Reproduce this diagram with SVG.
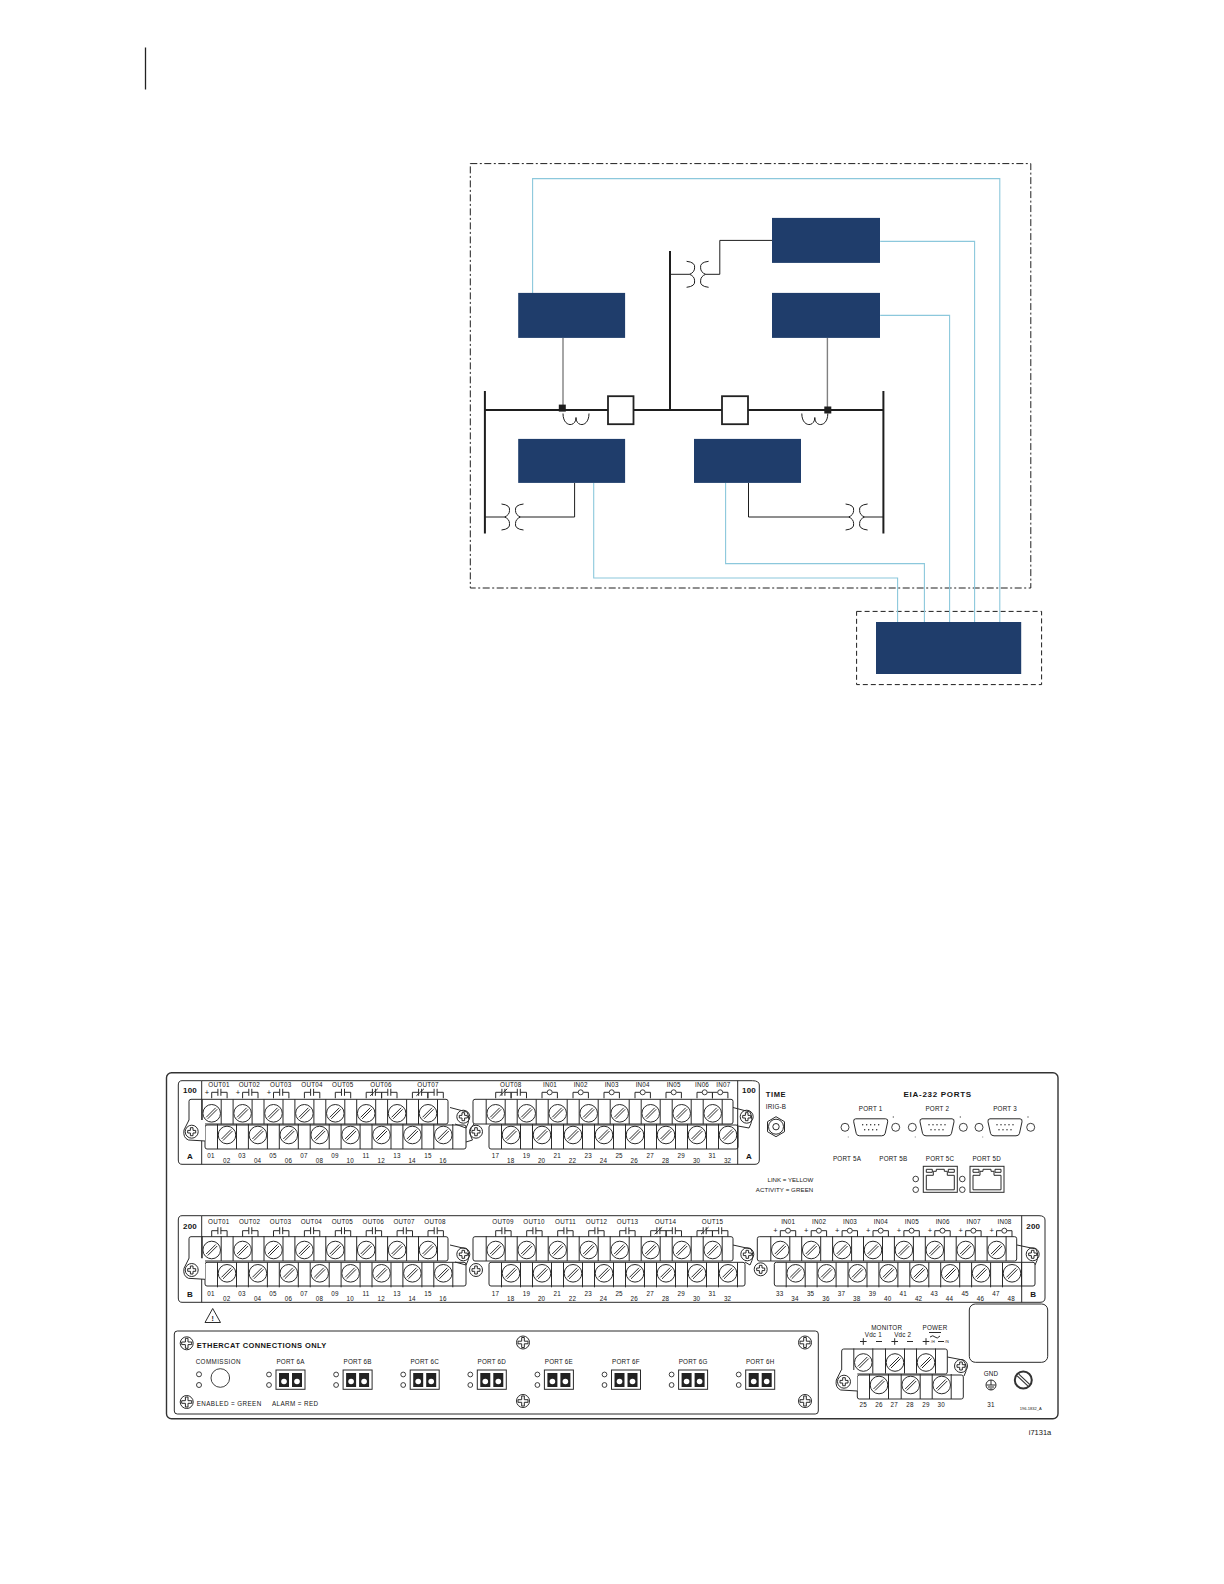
<svg xmlns="http://www.w3.org/2000/svg" width="1224" height="1584" viewBox="0 0 1224 1584">
<style>
text{font-family:"Liberation Sans",Arial,sans-serif;fill:#151515;font-size:6.3px;letter-spacing:.2px;text-anchor:middle}
.l{text-anchor:start}.r{text-anchor:end}
.b{font-weight:bold}
.h{font-size:8px;font-weight:bold;letter-spacing:.7px}
.n{fill:#1f3d6b}
.c{fill:none;stroke:#8cc8dc;stroke-width:1.1}
.k{fill:none;stroke:#1e1e1e;stroke-width:1}
.bus{fill:none;stroke:#1e1e1e;stroke-width:2}
.gr{fill:none;stroke:#808080;stroke-width:1.4}
.dash{fill:none;stroke:#1e1e1e;stroke-width:1;stroke-dasharray:5 3}
.dd{fill:none;stroke:#1e1e1e;stroke-width:1;stroke-dasharray:7 2.5 2 2.5}
.o{fill:none;stroke:#2a2a2a;stroke-width:1}
.w{fill:#fff;stroke:#2a2a2a;stroke-width:1}
.led{fill:#fff;stroke:#2a2a2a;stroke-width:.9}
</style>
<defs>
<g id="xf"><path class="k" d="M-11,-13Q-2,-12-3,-6.5Q-3,-2-8,0Q-3,2-3,6.5Q-2,12-11,13M11,-13Q2,-12 3,-6.5Q3,-2 8,0Q3,2 3,6.5Q2,12 11,13"/></g>
<path id="ct" class="k" d="M0,0C0,14 13,14 13,4C13,14 26,14 26,0"/>
<g id="sw"><circle class="w" r="8.8"/><path d="M-5.5,4L4,-5.5M-4,5.5L5.5,-4" class="o"/></g>
<g id="st"><path class="o" d="M-9.5,-14V11M9.5,-14V11"/><use href="#sw"/></g>
<g id="sb"><path class="o" d="M-9.5,-11V14M9.5,-11V14"/><use href="#sw"/></g>
<g id="m"><circle class="w" r="6.5" stroke-width="1.6"/><path class="o" d="M-1.3,-4H1.3V-1.3H4V1.3H1.3V4H-1.3V1.3H-4V-1.3H-1.3Z"/></g>
<g id="big"><circle class="w" r="6.5"/><path class="o" d="M-1.3,-5H1.3V-1.3H5V1.3H1.3V5H-1.3V1.3H-5V-1.3H-1.3Z"/></g>
<path id="fl" d="M-2.7,-11.7L-7.7,-1.7Q-9,6-3.3,8.3L13.3,9.3V-11.7Z" fill="#fff"/>
<path id="fll" class="o" d="M-2.7,-11.7L-7.7,-1.7Q-9,6-3.3,8.3L13.3,9.3"/>
<path id="no" class="o" d="M0,6V0H6.2M9.2,0H15.4V6M6.2,-3.5V3.5M9.2,-3.5V3.5"/>
<path id="nc" class="o" d="M0,6V0H6.2M9.2,0H15.4V6M6.2,-3.5V3.5M9.2,-3.5V3.5M4,3.5L11.5,-3.5"/>
<g id="inp"><path class="o" d="M0,6V0H5.2M10.2,0H15.4V6"/><circle class="led" cx="7.7" r="2.5"/></g>
<g id="t1"><use href="#st" x="211.7"/><use href="#st" x="242.6"/><use href="#st" x="273.5"/><use href="#st" x="304.4"/><use href="#st" x="335.3"/><use href="#st" x="366.2"/><use href="#st" x="397.1"/><use href="#st" x="428"/></g>
<g id="b1"><use href="#sb" x="227"/><use href="#sb" x="257.9"/><use href="#sb" x="288.8"/><use href="#sb" x="319.7"/><use href="#sb" x="350.6"/><use href="#sb" x="381.5"/><use href="#sb" x="412.4"/><use href="#sb" x="443.3"/></g>
<g id="t2"><use href="#st" x="495.7"/><use href="#st" x="526.7"/><use href="#st" x="557.7"/><use href="#st" x="588.7"/><use href="#st" x="619.7"/><use href="#st" x="650.7"/><use href="#st" x="681.7"/><use href="#st" x="712.7"/></g>
<g id="b2"><use href="#sb" x="511"/><use href="#sb" x="542"/><use href="#sb" x="573"/><use href="#sb" x="604"/><use href="#sb" x="635"/><use href="#sb" x="666"/><use href="#sb" x="697"/><use href="#sb" x="728"/></g>
<g id="t3"><use href="#st" x="780.3"/><use href="#st" x="811.2"/><use href="#st" x="842.1"/><use href="#st" x="873"/><use href="#st" x="903.9"/><use href="#st" x="934.8"/><use href="#st" x="965.7"/><use href="#st" x="996.6"/></g>
<g id="b3"><use href="#sb" x="795.7"/><use href="#sb" x="826.6"/><use href="#sb" x="857.5"/><use href="#sb" x="888.4"/><use href="#sb" x="919.3"/><use href="#sb" x="950.2"/><use href="#sb" x="981.1"/><use href="#sb" x="1012"/></g>
<g id="db"><path class="o" d="M-15,-8.5H15Q17.5,-8.5 17,-5.5L14.5,6Q14,8.5 11,8.5H-11Q-14,8.5-14.5,6L-17,-5.5Q-17.5,-8.5-15,-8.5Z"/><path d="M-8,-2.5h.01M-4,-2.5h.01M0,-2.5h.01M4,-2.5h.01M8,-2.5h.01M-6,2.5h.01M-2,2.5h.01M2,2.5h.01M6,2.5h.01" stroke="#222" stroke-width="1.4" stroke-linecap="round"/></g>
<g id="rj"><rect class="o" width="34" height="26" stroke-width="1.1"/><path class="o" d="M3,23.5H31V9H24V5H21V3H13V5H10V9H3ZM3,3h6v3h-6ZM25,3h6v3h-6Z"/></g>
<g id="pt"><rect class="w" x="-14.5" width="29" height="19.3"/><rect x="-11.5" y="3" width="10" height="14" fill="#222"/><rect x="1.5" y="3" width="10" height="14" fill="#222"/><circle cx="-6.5" cy="11.5" r="2.8" fill="#fff"/><circle cx="6.5" cy="11.5" r="2.8" fill="#fff"/><circle class="led" cx="-21.5" cy="4.5" r="2.4"/><circle class="led" cx="-21.5" cy="15" r="2.4"/></g>
</defs>

<path id="page-mark" d="M145.5,47.5V89.5" stroke="#222" stroke-width="1.3" fill="none"/>

<g id="zones">
<rect id="zone-outer" class="dd" x="470.3" y="163.6" width="560.5" height="424.4"/>
<rect id="zone-inner" class="dash" x="856.6" y="611.4" width="185" height="73.2"/>
</g>

<g id="connectors">
<path class="c" d="M532.6,293V178.6H999.8V622"/>
<path class="c" d="M880.2,241.4H974.6V622"/>
<path class="c" d="M880.2,315.4H949.6V622"/>
<path class="c" d="M593.7,483V578H897.6V622"/>
<path class="c" d="M725.6,483V563.6H924.4V622"/>
<path class="gr" d="M563,338V409"/>
<path class="gr" d="M827.4,338V409"/>
<path class="k" d="M772,240.4H719.8V274.3H705.6M689.6,274.3H670"/>
<path class="k" d="M484.9,517H504.5M520.5,517H574.6V483"/>
<path class="k" d="M748.5,483V517H848.6M864.6,517H883.4"/>
<path class="bus" d="M484.9,391V533.6M883.4,391V533.6M484.9,410H883.4M670,251V410"/>
</g>

<g id="one-line-symbols">
<use href="#xf" x="697.6" y="274.3"/><use href="#xf" x="512.5" y="517"/><use href="#xf" x="856.6" y="517"/>
<use href="#ct" x="563" y="413.5"/><use href="#ct" x="801.8" y="413.5"/>
<rect x="558.8" y="404.6" width="7" height="7" fill="#1e1e1e"/><rect x="824.3" y="406.5" width="7" height="7" fill="#1e1e1e"/>
<rect id="breaker-1" x="608" y="396.2" width="25.5" height="28" fill="#fff" stroke="#222" stroke-width="1.8"/>
<rect id="breaker-2" x="722" y="396.2" width="26" height="28" fill="#fff" stroke="#222" stroke-width="1.8"/>
</g>

<g id="node-a"><rect class="n" x="772" y="217.9" width="108" height="45"/></g>
<g id="node-b"><rect class="n" x="772" y="292.9" width="108" height="45"/></g>
<g id="node-c"><rect class="n" x="518.2" y="292.9" width="106.9" height="45"/></g>
<g id="node-d"><rect class="n" x="518.2" y="438.9" width="106.9" height="44"/></g>
<g id="node-e"><rect class="n" x="694" y="438.9" width="107" height="44"/></g>
<g id="node-f"><rect class="n" x="876" y="622" width="145.2" height="52"/></g>

<g id="rear-panel">
<rect x="166.5" y="1072.8" width="891.5" height="346" rx="5" fill="#fff" stroke="#333" stroke-width="1.4"/>
</g>

<g id="row-a">
<path class="o" d="M201.7,1080.7H752.3Q759.3,1080.7 759.3,1085V1160Q759.3,1164.3 755,1164.3H182Q178.3,1164.3 178.3,1160V1085Q178.3,1080.7 182,1080.7H201.7V1164.3M737.7,1080.7V1164.3"/>
<rect class="o" x="189" y="1099.3" width="259" height="24.7" rx="2"/>
<rect class="o" x="205" y="1125" width="261" height="24" rx="2"/>
<rect class="o" x="473" y="1099.3" width="260" height="24.7" rx="2"/>
<rect class="o" x="489" y="1125" width="249" height="24" rx="2"/>
<use href="#t1" y="1113.3"/><use href="#b1" y="1135"/><use href="#t2" y="1113.3"/><use href="#b2" y="1135"/>
<use href="#fl" x="191.7" y="1131.7"/><use href="#fll" x="191.7" y="1131.7"/><use href="#m" x="191.7" y="1131.7"/>
<use href="#m" x="463.3" y="1116.7"/><use href="#m" x="476" y="1131.7"/><use href="#m" x="746.7" y="1116.7"/>
<path class="o" d="M450,1107.5L467,1112Q471,1119 466,1128L455,1124M466,1142L472.5,1140Q467,1131 474,1124M733,1107.5L750,1112Q754,1119 749,1128L738,1126"/>
<text class="b" x="190" y="1092.5" style="font-size:8px">100</text><text class="b" x="190" y="1159" style="font-size:8px">A</text>
<text class="b" x="749" y="1092.5" style="font-size:8px">100</text><text class="b" x="749" y="1159" style="font-size:8px">A</text>
<text x="219" y="1087">OUT01</text><text x="249.3" y="1087">OUT02</text><text x="280.7" y="1087">OUT03</text><text x="312" y="1087">OUT04</text><text x="342.7" y="1087">OUT05</text><text x="381" y="1087">OUT06</text><text x="428" y="1087">OUT07</text>
<text x="510.7" y="1087">OUT08</text><text x="550" y="1087">IN01</text><text x="580.7" y="1087">IN02</text><text x="611.7" y="1087">IN03</text><text x="642.7" y="1087">IN04</text><text x="673.7" y="1087">IN05</text><text x="702" y="1087">IN06</text><text x="723.3" y="1087">IN07</text>
<text x="207" y="1094.5" style="font-size:7.5px">+</text><text x="238" y="1094.5" style="font-size:7.5px">+</text><text x="269" y="1094.5" style="font-size:7.5px">+</text>
<use href="#no" x="211.7" y="1092.3"/><use href="#no" x="242.6" y="1092.3"/><use href="#no" x="273.5" y="1092.3"/><use href="#no" x="304.4" y="1092.3"/><use href="#no" x="335.3" y="1092.3"/>
<use href="#nc" x="366.2" y="1092.3"/><use href="#no" x="381.6" y="1092.3"/><use href="#nc" x="412.4" y="1092.3"/><use href="#no" x="427.9" y="1092.3"/>
<use href="#nc" x="495.7" y="1092.3"/><use href="#no" x="511.1" y="1092.3"/>
<use href="#inp" x="542" y="1092.3"/><use href="#inp" x="573" y="1092.3"/><use href="#inp" x="604" y="1092.3"/><use href="#inp" x="635" y="1092.3"/><use href="#inp" x="666" y="1092.3"/><use href="#inp" x="697" y="1092.3"/><use href="#inp" x="712.5" y="1092.3"/>
<text x="211" y="1158">01</text><text x="226.7" y="1162.5">02</text><text x="242" y="1158">03</text><text x="257.6" y="1162.5">04</text><text x="273" y="1158">05</text><text x="288.5" y="1162.5">06</text><text x="304" y="1158">07</text><text x="319.4" y="1162.5">08</text><text x="335" y="1158">09</text><text x="350.3" y="1162.5">10</text><text x="366" y="1158">11</text><text x="381.2" y="1162.5">12</text><text x="397" y="1158">13</text><text x="412.1" y="1162.5">14</text><text x="428" y="1158">15</text><text x="443" y="1162.5">16</text>
<text x="495.5" y="1158">17</text><text x="510.7" y="1162.5">18</text><text x="526.4" y="1158">19</text><text x="541.6" y="1162.5">20</text><text x="557.3" y="1158">21</text><text x="572.5" y="1162.5">22</text><text x="588.2" y="1158">23</text><text x="603.4" y="1162.5">24</text><text x="619.1" y="1158">25</text><text x="634.3" y="1162.5">26</text><text x="650.2" y="1158">27</text><text x="665.6" y="1162.5">28</text><text x="681.3" y="1158">29</text><text x="696.6" y="1162.5">30</text><text x="712.3" y="1158">31</text><text x="727.6" y="1162.5">32</text>
</g>

<g id="time-ports">
<text class="b" x="776" y="1097" style="font-size:7.5px;letter-spacing:.6px">TIME</text>
<text x="776" y="1108.5">IRIG-B</text>
<path class="w" d="M776,1116.7L784.5,1121.7V1131.7L776,1136.7L767.5,1131.7V1121.7Z"/><circle class="o" cx="776" cy="1126.7" r="7.5"/><circle class="o" cx="776" cy="1126.7" r="3.2"/>
<text class="h" x="937.7" y="1097">EIA-232 PORTS</text>
<text x="870.7" y="1110.5">PORT 1</text><text x="937.3" y="1110.5">PORT 2</text><text x="1005" y="1110.5">PORT 3</text>
<use href="#db" x="870.7" y="1127.3"/><use href="#db" x="937" y="1127.3"/><use href="#db" x="1005" y="1127.3"/>
<circle class="led" cx="845" cy="1127.3" r="4"/><circle class="led" cx="895.7" cy="1127.3" r="4"/><circle class="led" cx="912.3" cy="1127.3" r="4"/><circle class="led" cx="963.3" cy="1127.3" r="4"/><circle class="led" cx="979" cy="1127.3" r="4"/><circle class="led" cx="1030.7" cy="1127.3" r="4"/>
<path d="M893.3,1116v2M960.3,1116v2M1028,1116v2M848.3,1136.5v1M915.3,1136.5v1M982.7,1136.5v1" stroke="#555" stroke-width=".7"/>
<text x="847" y="1160.5">PORT 5A</text><text x="893.3" y="1160.5">PORT 5B</text><text x="940" y="1160.5">PORT 5C</text><text x="986.7" y="1160.5">PORT 5D</text>
<use href="#rj" x="923.3" y="1166.3"/><use href="#rj" x="970" y="1166.3"/>
<circle class="led" cx="915.7" cy="1179" r="2.8"/><circle class="led" cx="915.7" cy="1189.7" r="2.8"/><circle class="led" cx="962.3" cy="1179" r="2.8"/><circle class="led" cx="962.3" cy="1189.7" r="2.8"/>
<text class="r" x="813.3" y="1182" style="font-size:6.1px;letter-spacing:0">LINK = YELLOW</text><text class="r" x="813.3" y="1192.3" style="font-size:6.1px;letter-spacing:.1px">ACTIVITY = GREEN</text>
</g>

<g id="row-b">
<path class="o" d="M201.7,1215.7H1039Q1045,1215.7 1045,1220V1298Q1045,1302.3 1040,1302.3H182Q178.3,1302.3 178.3,1298V1220Q178.3,1215.7 182,1215.7H201.7V1302.3M1021.7,1215.7V1302.3"/>
<rect class="o" x="189" y="1236.7" width="259" height="24.3" rx="2"/>
<rect class="o" x="205" y="1262.3" width="261" height="23.7" rx="2"/>
<rect class="o" x="473" y="1236.7" width="260" height="24.3" rx="2"/>
<rect class="o" x="489" y="1262.3" width="256" height="23.7" rx="2"/>
<rect class="o" x="757.3" y="1236.7" width="259.4" height="24.3" rx="2"/>
<rect class="o" x="774.3" y="1262.3" width="260.7" height="23.7" rx="2"/>
<use href="#t1" y="1250"/><use href="#b1" y="1273.3"/><use href="#t2" y="1250"/><use href="#b2" y="1273.3"/><use href="#t3" y="1250"/><use href="#b3" y="1273.3"/>
<use href="#fl" x="191.7" y="1270"/><use href="#fll" x="191.7" y="1270"/><use href="#m" x="191.7" y="1270"/>
<use href="#m" x="463.3" y="1254.3"/><use href="#m" x="476" y="1270"/><use href="#m" x="747.3" y="1254.3"/><use href="#m" x="760.7" y="1269.3"/><use href="#m" x="1032.7" y="1254.3"/>
<path class="o" d="M450,1245L467,1249Q471,1256 466,1265L455,1262M733,1245L751,1249Q755,1256 750,1265L745,1262M1017,1245L1036,1249Q1040,1256 1035,1265"/>
<text class="b" x="190" y="1228.5" style="font-size:8px">200</text><text class="b" x="190" y="1297" style="font-size:8px">B</text>
<text class="b" x="1033.3" y="1228.5" style="font-size:8px">200</text><text class="b" x="1033.3" y="1297" style="font-size:8px">B</text>
<text x="218.7" y="1224">OUT01</text><text x="249.6" y="1224">OUT02</text><text x="280.5" y="1224">OUT03</text><text x="311.4" y="1224">OUT04</text><text x="342.3" y="1224">OUT05</text><text x="373.2" y="1224">OUT06</text><text x="404.1" y="1224">OUT07</text><text x="435" y="1224">OUT08</text>
<text x="503" y="1224">OUT09</text><text x="534" y="1224">OUT10</text><text x="565.5" y="1224">OUT11</text><text x="596.5" y="1224">OUT12</text><text x="627.5" y="1224">OUT13</text><text x="665.5" y="1224">OUT14</text><text x="712.5" y="1224">OUT15</text>
<text x="788.2" y="1224">IN01</text><text x="819.1" y="1224">IN02</text><text x="850" y="1224">IN03</text><text x="880.9" y="1224">IN04</text><text x="911.8" y="1224">IN05</text><text x="942.7" y="1224">IN06</text><text x="973.6" y="1224">IN07</text><text x="1004.5" y="1224">IN08</text>
<use href="#no" x="211.7" y="1230.7"/><use href="#no" x="242.6" y="1230.7"/><use href="#no" x="273.5" y="1230.7"/><use href="#no" x="304.4" y="1230.7"/><use href="#no" x="335.3" y="1230.7"/><use href="#no" x="366.2" y="1230.7"/><use href="#no" x="397.1" y="1230.7"/><use href="#no" x="428" y="1230.7"/>
<use href="#no" x="495.7" y="1230.7"/><use href="#no" x="526.7" y="1230.7"/><use href="#no" x="557.7" y="1230.7"/><use href="#no" x="588.7" y="1230.7"/><use href="#no" x="619.7" y="1230.7"/>
<use href="#nc" x="650.7" y="1230.7"/><use href="#no" x="666.1" y="1230.7"/><use href="#nc" x="697" y="1230.7"/><use href="#no" x="712.5" y="1230.7"/>
<use href="#inp" x="780.3" y="1230.7"/><use href="#inp" x="811.2" y="1230.7"/><use href="#inp" x="842.1" y="1230.7"/><use href="#inp" x="873" y="1230.7"/><use href="#inp" x="903.9" y="1230.7"/><use href="#inp" x="934.8" y="1230.7"/><use href="#inp" x="965.7" y="1230.7"/><use href="#inp" x="996.6" y="1230.7"/>
<text x="775.5" y="1233" style="font-size:7.5px">+</text><text x="806.4" y="1233" style="font-size:7.5px">+</text><text x="837.3" y="1233" style="font-size:7.5px">+</text><text x="868.2" y="1233" style="font-size:7.5px">+</text><text x="899.1" y="1233" style="font-size:7.5px">+</text><text x="930" y="1233" style="font-size:7.5px">+</text><text x="960.9" y="1233" style="font-size:7.5px">+</text><text x="991.8" y="1233" style="font-size:7.5px">+</text>
<text x="211" y="1296">01</text><text x="226.7" y="1300.5">02</text><text x="242" y="1296">03</text><text x="257.6" y="1300.5">04</text><text x="273" y="1296">05</text><text x="288.5" y="1300.5">06</text><text x="304" y="1296">07</text><text x="319.4" y="1300.5">08</text><text x="335" y="1296">09</text><text x="350.3" y="1300.5">10</text><text x="366" y="1296">11</text><text x="381.2" y="1300.5">12</text><text x="397" y="1296">13</text><text x="412.1" y="1300.5">14</text><text x="428" y="1296">15</text><text x="443" y="1300.5">16</text>
<text x="495.5" y="1296">17</text><text x="510.7" y="1300.5">18</text><text x="526.4" y="1296">19</text><text x="541.6" y="1300.5">20</text><text x="557.3" y="1296">21</text><text x="572.5" y="1300.5">22</text><text x="588.2" y="1296">23</text><text x="603.4" y="1300.5">24</text><text x="619.1" y="1296">25</text><text x="634.3" y="1300.5">26</text><text x="650.2" y="1296">27</text><text x="665.6" y="1300.5">28</text><text x="681.3" y="1296">29</text><text x="696.6" y="1300.5">30</text><text x="712.3" y="1296">31</text><text x="727.6" y="1300.5">32</text>
<text x="779.7" y="1296">33</text><text x="795" y="1300.5">34</text><text x="810.6" y="1296">35</text><text x="825.9" y="1300.5">36</text><text x="841.5" y="1296">37</text><text x="856.8" y="1300.5">38</text><text x="872.4" y="1296">39</text><text x="887.7" y="1300.5">40</text><text x="903.3" y="1296">41</text><text x="918.6" y="1300.5">42</text><text x="934.2" y="1296">43</text><text x="949.5" y="1300.5">44</text><text x="965.1" y="1296">45</text><text x="980.4" y="1300.5">46</text><text x="996" y="1296">47</text><text x="1011.3" y="1300.5">48</text>
<path class="o" d="M212.7,1308.5L220.5,1322.5H205Z" stroke-linejoin="round"/>
<text class="b" x="212.7" y="1321" style="font-size:7px;letter-spacing:0">!</text>
</g>

<g id="ethercat">
<rect class="o" x="174.3" y="1331" width="644" height="83" rx="3" stroke-width="1.1"/>
<use href="#big" x="186.7" y="1343.3"/><use href="#big" x="186.7" y="1402"/><use href="#big" x="523" y="1342.5"/><use href="#big" x="805" y="1342.5"/><use href="#big" x="523" y="1401"/><use href="#big" x="805" y="1401"/>
<text class="l b" x="196.7" y="1347.8" style="font-size:7.5px;letter-spacing:.4px">ETHERCAT CONNECTIONS ONLY</text>
<text x="218.3" y="1364" style="letter-spacing:.4px">COMMISSION</text>
<circle class="led" cx="199" cy="1374.3" r="2.5"/><circle class="led" cx="199" cy="1385" r="2.5"/><circle class="led" cx="220.3" cy="1378" r="9.3"/>
<text x="290.5" y="1364">PORT 6A</text><text x="357.6" y="1364">PORT 6B</text><text x="424.7" y="1364">PORT 6C</text><text x="491.8" y="1364">PORT 6D</text><text x="558.9" y="1364">PORT 6E</text><text x="626" y="1364">PORT 6F</text><text x="693.1" y="1364">PORT 6G</text><text x="760.2" y="1364">PORT 6H</text>
<use href="#pt" x="290.5" y="1370"/><use href="#pt" x="357.6" y="1370"/><use href="#pt" x="424.7" y="1370"/><use href="#pt" x="491.8" y="1370"/><use href="#pt" x="558.9" y="1370"/><use href="#pt" x="626" y="1370"/><use href="#pt" x="693.1" y="1370"/><use href="#pt" x="760.2" y="1370"/>
<text class="l" x="196.7" y="1406" style="letter-spacing:.4px">ENABLED = GREEN</text><text class="l" x="272" y="1406" style="letter-spacing:.4px">ALARM = RED</text>
</g>

<g id="power">
<rect class="o" x="841.7" y="1349" width="105.6" height="25" rx="2"/>
<rect class="o" x="857.3" y="1375" width="106" height="24" rx="2"/>
<use href="#st" x="863.3" y="1362.5"/><use href="#st" x="895" y="1362.5"/><use href="#st" x="926" y="1362.5"/>
<use href="#sb" x="879" y="1385"/><use href="#sb" x="910.7" y="1385"/><use href="#sb" x="941.7" y="1385"/>
<use href="#fl" x="844" y="1381.7"/><use href="#fll" x="844" y="1381.7"/><use href="#m" x="844" y="1381.7"/><use href="#m" x="961" y="1366"/>
<path class="o" d="M947.3,1357L963,1360Q969,1367 964,1376"/>
<text x="886.7" y="1329.5">MONITOR</text><text x="873.3" y="1336.5">Vdc 1</text><text x="902.7" y="1336.5">Vdc 2</text><text x="935" y="1329.5">POWER</text>
<path class="o" d="M929,1332.5h12M930,1337q3,-2.5 5,0t5,-1"/>
<path class="o" stroke-width="1.2" d="M860,1341.5H866.6M863.3,1338.2V1344.8M876,1341.5H882M891.4,1341.5H898M894.7,1338.2V1344.8M907,1341.5H913M922.7,1341.5H929.3M926,1338.2V1344.8M938,1341.5H944"/>
<text x="933" y="1343.3" style="font-size:3.5px">/H</text><text x="947" y="1343.3" style="font-size:3.5px">/N</text>
<text x="863.3" y="1407.3">25</text><text x="879" y="1407.3">26</text><text x="894.3" y="1407.3">27</text><text x="910" y="1407.3">28</text><text x="926" y="1407.3">29</text><text x="941.3" y="1407.3">30</text>
<rect class="o" x="969.3" y="1304" width="78.4" height="58.3" rx="6" stroke-width="1.1"/>
<text x="991" y="1375.5">GND</text>
<circle class="o" cx="991" cy="1385" r="5"/><path class="o" d="M991,1380V1385M986.5,1385H995.5M988,1387H994M989.5,1389H992.5"/>
<text x="991" y="1407.3">31</text>
<circle cx="1023.3" cy="1380" r="8.5" fill="#fff" stroke="#333" stroke-width="2"/><path d="M1018,1375L1028.6,1385" stroke="#333" stroke-width="3.5"/><path d="M1018,1375L1028.6,1385" stroke="#fff" stroke-width="1.2"/>
<text x="1030.7" y="1410" style="font-size:4px;letter-spacing:0">196-1832_A</text>
<text x="1040" y="1435" style="font-size:7.5px;letter-spacing:0">i7131a</text>
</g>
</svg>
